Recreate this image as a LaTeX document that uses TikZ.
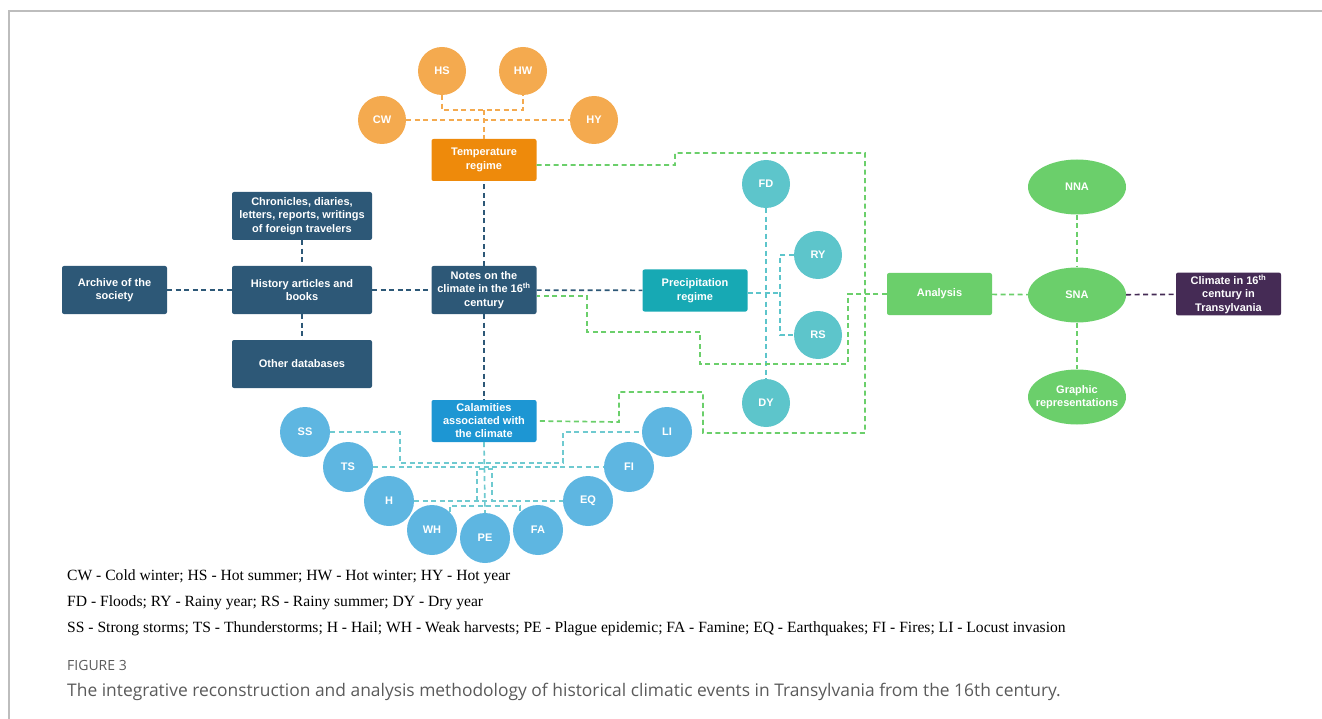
\documentclass[tikz,border=0pt]{standalone}
\usepackage{fontspec}
\setmainfont{Liberation Serif}
\newfontfamily\boxfont{Liberation Sans}
\newfontfamily\capfont{Open Sans}
\usetikzlibrary{calc,shapes.geometric}
\definecolor{tempor}{HTML}{EE8A0B}
\definecolor{tempcirc}{HTML}{F4AA4F}
\definecolor{srcblue}{HTML}{2D5877}
\definecolor{prectl}{HTML}{17A9B4}
\definecolor{preccirc}{HTML}{5DC5CB}
\definecolor{calblue}{HTML}{1D96D3}
\definecolor{calcirc}{HTML}{5EB6E1}
\definecolor{calline}{HTML}{6FCAD0}
\definecolor{anagreen}{HTML}{6BCF6B}
\definecolor{climpurp}{HTML}{452B55}
\definecolor{framegray}{HTML}{BDBDBD}
\definecolor{capgray}{HTML}{5A5A5A}
\begin{document}
\begin{tikzpicture}[x=1pt,y=-1pt,
  lbl/.style={text=white,font=\boxfont\bfseries\fontsize{11}{13.5}\selectfont,align=center},
  srcbox/.style={lbl,rectangle,rounded corners=2pt,fill=srcblue,minimum width=140pt,minimum height=48pt,inner sep=2pt},
  regbox/.style={lbl,rectangle,rounded corners=2pt,minimum width=105pt,minimum height=42pt,inner sep=2pt},
  evt/.style={lbl,circle,minimum size=48pt,inner sep=0pt},
  oval/.style={lbl,ellipse,fill=anagreen,minimum width=98pt,minimum height=55pt,inner xsep=-8pt,inner ysep=0pt},
  lnk/.style={dash pattern=on 5pt off 3.5pt,line width=1.7pt},
  legend/.style={anchor=base west,font=\fontsize{15.6}{18}\selectfont,inner sep=0pt}]
	\useasboundingbox (0,0) rectangle (1322,719);
	% frame
	\draw[framegray,line width=1.3pt] (9,719) -- (9,11) -- (1322,11);

	% sources
	\node[srcbox,minimum width=105pt] (arch) at (114.5,290) {Archive of the\\society};
	\node[srcbox] (chron) at (302,216) {Chronicles, diaries,\\letters, reports, writings\\of foreign travelers};
	\node[srcbox] (hist) at (302,290) {History articles and\\books};
	\node[srcbox] (other) at (302,364) {Other databases};
	\node[srcbox,minimum width=105pt] (notes) at (484,290) {Notes on the\\climate in the 16\textsuperscript{th}\\century};

	% regimes
	\node[regbox,fill=tempor] (temp) at (484,160) {Temperature\\regime};
	\node[regbox,fill=prectl] (prec) at (695,290.5) {Precipitation\\regime};
	\node[regbox,fill=calblue,font=\boxfont\bfseries\fontsize{11}{13}\selectfont] (cal) at (484,421) {Calamities\\associated with\\the climate};

	% temperature events
	\foreach \n/\t/\x/\y in {hs/HS/442/71,hw/HW/523/71,cw/CW/382/120,hy/HY/594/120}
		\node[evt,fill=tempcirc] (\n) at (\x,\y) {\t};
	% precipitation events
	\foreach \n/\t/\x/\y in {fd/FD/766/184,ry/RY/818/255,rs/RS/818/335,dy/DY/766/403}
		\node[evt,fill=preccirc] (\n) at (\x,\y) {\t};
	% calamities
	\foreach \n/\t/\x/\y in {ss/SS/305/432,ts/TS/348/467,h/H/389/501,wh/WH/432/530,pe/PE/485/538,
		fa/FA/538/530,eq/EQ/588/501,fi/FI/629/467,li/LI/667/432}
		\node[evt,fill=calcirc,minimum size=50pt] (\n) at (\x,\y) {\t};

	% analysis
	\node[regbox,fill=anagreen] (ana) at (939.5,294) {Analysis};
	\node[oval] (sna) at (1077,295) {SNA};
	\node[oval] (nna) at (1077,187) {NNA};
	\node[oval] (gr) at (1077,397) {Graphic\\representations};
	\node[regbox,fill=climpurp] (clim) at (1228.5,294) {Climate in 16\textsuperscript{th}\\century in\\Transylvania};

	% connectors
	\coordinate (tj) at (484,110);
	\draw[lnk,tempcirc] (cw) -- (hy);
	\draw[lnk,tempcirc] (hs.south) |- (tj) -| (hw.south);
	\draw[lnk,tempcirc] (tj) -- (temp.north);

	\draw[lnk,srcblue] (arch) -- (hist);
	\draw[lnk,srcblue] (chron) -- (hist);
	\draw[lnk,srcblue] (hist) -- (other);
	\draw[lnk,srcblue] (hist) -- (notes);
	\draw[lnk,srcblue] (notes) -- (temp);
	\draw[lnk,srcblue] (notes) -- (cal);
	\draw[lnk,srcblue] (notes) -- (prec);

	\coordinate (pj) at (780,293);
	\draw[lnk,preccirc] (fd) -- (dy);
	\draw[lnk,preccirc] (prec.east |- pj) -- (pj);
	\draw[lnk,preccirc] (ry.west) -| (pj) |- (rs.west);

	\draw[lnk,anagreen] ($(temp.east)+(0,5)$) -| (675,153) -| (865,433) -| (703,392) -| (619,422) -- (cal.east);
	\draw[lnk,anagreen] (ana.west) -| (848,364) -| (700,332) -| (587,296) -- ($(notes.east)+(0,6)$);
	\draw[lnk,anagreen] (ana) -- (sna);
	\draw[lnk,anagreen] (nna) -- (sna);
	\draw[lnk,anagreen] (sna) -- (gr);
	\draw[lnk,climpurp] (sna) -- (clim);

	\draw[lnk,calline] (ss.east) -| (400,463) -| (563,432) -- (li.west);
	\draw[lnk,calline] (ts) -- (fi);
	\draw[lnk,calline] (h) -- (eq);
	\draw[lnk,calline] (wh.45) |- (484,506) -| (fa.135);
	\draw[lnk,calline] (cal.south) -- (pe.north);
	\draw[lnk,calline] (477,501) |- (492,469) -- (492,501);

	% legend
	\node[legend] (leg1) at (67,580) {CW - Cold winter; HS - Hot summer; HW - Hot winter; HY - Hot year};
	\node[legend] (leg2) at (67,606) {FD - Floods; RY - Rainy year; RS - Rainy summer; DY - Dry year};
	\node[legend] (leg3) at (67,632) {SS - Strong storms; TS - Thunderstorms; H - Hail; WH - Weak harvests; PE - Plague epidemic; FA - Famine; EQ - Earthquakes; FI - Fires; LI - Locust invasion};

	% caption
	\node[anchor=base west,inner sep=0pt,text=capgray,font=\capfont\fontsize{14}{16}\selectfont] (fig) at (67,670) {FIGURE 3};
	\node[anchor=base west,inner sep=0pt,text=capgray,font=\capfont\fontsize{17.4}{20}\selectfont] (cap) at (67,696) {The integrative reconstruction and analysis methodology of historical climatic events in Transylvania from the 16th century.};
\end{tikzpicture}
\end{document}
